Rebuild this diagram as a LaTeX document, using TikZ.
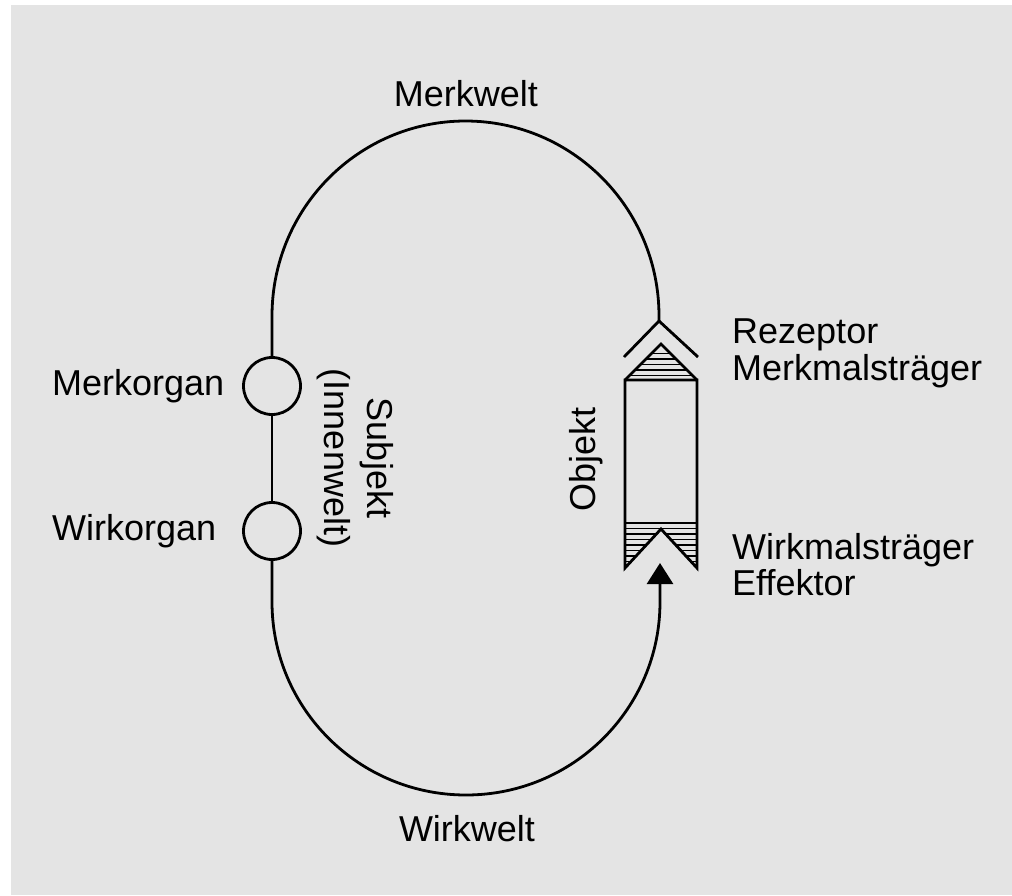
\documentclass[tikz,border=0pt]{standalone}
\usepackage{fontspec}
\setmainfont{Liberation Sans}
\usetikzlibrary{arrows.meta}
\definecolor{bg}{HTML}{E4E4E4}
\begin{document}
\begin{tikzpicture}[x=1pt,y=-1pt,
  line/.style={line width=2.8pt, line join=miter},
  hatch/.style={line width=1.9pt},
  lbl/.style={inner sep=0pt, font=\fontsize{36}{37}\selectfont},
  organ/.style={circle, draw, line width=2.8pt, minimum size=57pt, inner sep=0pt}]
\useasboundingbox (0,0) rectangle (1012,895);
\fill[white] (0,0) rectangle (1012,895);
\fill[bg] (11,5) rectangle (1012,895);

\node[organ] (mo) at (272,386) {};
\node[organ] (wo) at (272,531) {};
\coordinate (rez) at (659,321);
\coordinate (eff) at (660,563);

% Merkwelt (top) and Wirkwelt (bottom) loop
\draw[line] (mo.north) -- (272,316) arc[start angle=180, end angle=360, x radius=193.5, y radius=195] -- (rez);
\draw[line] (mo.south) -- (wo.north);
\draw[line, -{Triangle[length=21pt,width=26pt]}] (wo.south) -- (272,602) arc[start angle=180, end angle=0, x radius=194, y radius=193] -- (eff);

% Rezeptor chevron
\draw[line] (624,357) -- (rez) -- (698,357);
% top hatched triangle (Merkmalstraeger)
\begin{scope}
  \clip (625,380) -- (661,344) -- (697,380) -- cycle;
  \foreach \y in {353.5,359,364.5,370,375.5} \draw[hatch] (600,\y) -- (720,\y);
\end{scope}
\draw[line] (625,380) -- (661,344) -- (697,380);
% object box with effector notch
\draw[line] (625,380) -- (697,380) -- (697,568) -- (661,529) -- (625,568) -- cycle;
\begin{scope}
  \clip (625,523) -- (697,523) -- (697,568) -- (661,529) -- (625,568) -- cycle;
  \foreach \y in {528.5,534,539.5,545,550.5,556,561.5,567} \draw[hatch] (600,\y) -- (720,\y);
\end{scope}
\draw[line] (625,523) -- (697,523);

% labels
\node[lbl, anchor=base] (merkwelt) at (466,106) {Merkwelt};
\node[lbl, anchor=base] (wirkwelt) at (467,841) {Wirkwelt};
\node[lbl, anchor=base west] (merkorgan) at (52,395) {Merkorgan};
\node[lbl, anchor=base west] (wirkorgan) at (52,540) {Wirkorgan};
\node[lbl, anchor=base, rotate=-90] (subjekt) at (367,458) {Subjekt};
\node[lbl, anchor=base, rotate=-90] (innenwelt) at (324,458) {(Innenwelt)};
\node[lbl, anchor=base, rotate=90] (objekt) at (595,459) {Objekt};
\node[lbl, anchor=base west] (rezeptor) at (732,343) {Rezeptor};
\node[lbl, anchor=base west] (merkmal) at (732,380) {Merkmalsträger};
\node[lbl, anchor=base west] (wirkmal) at (732,559) {Wirkmalsträger};
\node[lbl, anchor=base west] (effektor) at (732,595) {Effektor};
\end{tikzpicture}
\end{document}
